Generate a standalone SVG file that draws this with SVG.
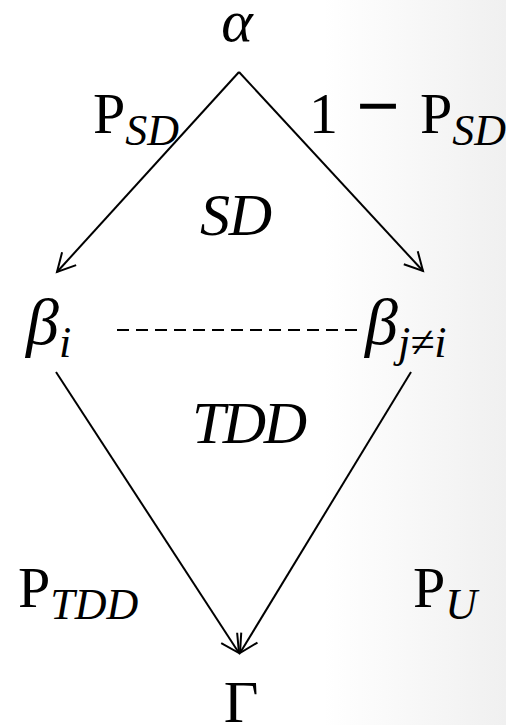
<svg xmlns="http://www.w3.org/2000/svg" width="506" height="725" viewBox="0 0 506 725">
<defs>
<linearGradient id="bg" x1="0" y1="0" x2="1" y2="0">
<stop offset="0" stop-color="#ffffff"/>
<stop offset="0.64" stop-color="#ffffff"/>
<stop offset="1" stop-color="#f0f0f0"/>
</linearGradient>
<marker id="arr" markerUnits="userSpaceOnUse" viewBox="-22 -22 44 44" refX="0" refY="0" markerWidth="44" markerHeight="44" orient="auto" overflow="visible">
<path d="M-18,-9.5 L0,0 L-18,9.5" fill="none" stroke="#000" stroke-width="2"/>
</marker>
</defs>
<style>
.t{font-family:"Liberation Serif","DejaVu Serif",serif;fill:#000}
.m{font-size:60px}
.p{font-size:58px}
.s{font-size:44px}
.i{font-style:italic}
.ln{stroke:#000;stroke-width:2;fill:none}
</style>
<rect width="506" height="725" fill="url(#bg)"/>
<g id="connectors">
<line class="ln" x1="239" y1="72" x2="57" y2="272" marker-end="url(#arr)"/>
<line class="ln" x1="239" y1="72" x2="423" y2="271" marker-end="url(#arr)"/>
<line class="ln" x1="117" y1="330" x2="362" y2="330" stroke-width="1.5" stroke-dasharray="12 7"/>
<line class="ln" x1="56" y1="372" x2="239" y2="653" marker-end="url(#arr)"/>
<line class="ln" x1="411" y1="372" x2="240" y2="653" marker-end="url(#arr)"/>
</g>
<g id="alpha"><text class="t m i" x="237" y="41" text-anchor="middle">α</text></g>
<g id="label-psd-left"><text class="t p" x="93" y="133">P<tspan class="s i" dy="12">SD</tspan></text></g>
<g id="label-psd-right"><text class="t p" x="309" y="133">1</text><text class="t" x="356" y="130" font-size="72" font-weight="bold" textLength="44" lengthAdjust="spacingAndGlyphs">−</text><text class="t p" x="420" y="133">P<tspan class="s i" dy="12">SD</tspan></text></g>
<g id="sd"><text class="t m i" x="200" y="235" textLength="72">SD</text></g>
<g id="beta-i"><text class="t i" font-size="66" x="26" y="344">β<tspan class="s" dy="13">i</tspan></text></g>
<g id="beta-j"><text class="t i" font-size="66" x="365" y="344">β<tspan class="s" dy="13">j≠i</tspan></text></g>
<g id="tdd"><text class="t m i" x="192" y="443" textLength="115">TDD</text></g>
<g id="label-ptdd"><text class="t p" x="18" y="607">P<tspan class="s i" dy="12">TDD</tspan></text></g>
<g id="label-pu"><text class="t p" x="413" y="607">P<tspan class="s i" dy="12">U</tspan></text></g>
<g id="gamma"><text class="t m" x="241" y="722" text-anchor="middle">Γ</text></g>
</svg>
